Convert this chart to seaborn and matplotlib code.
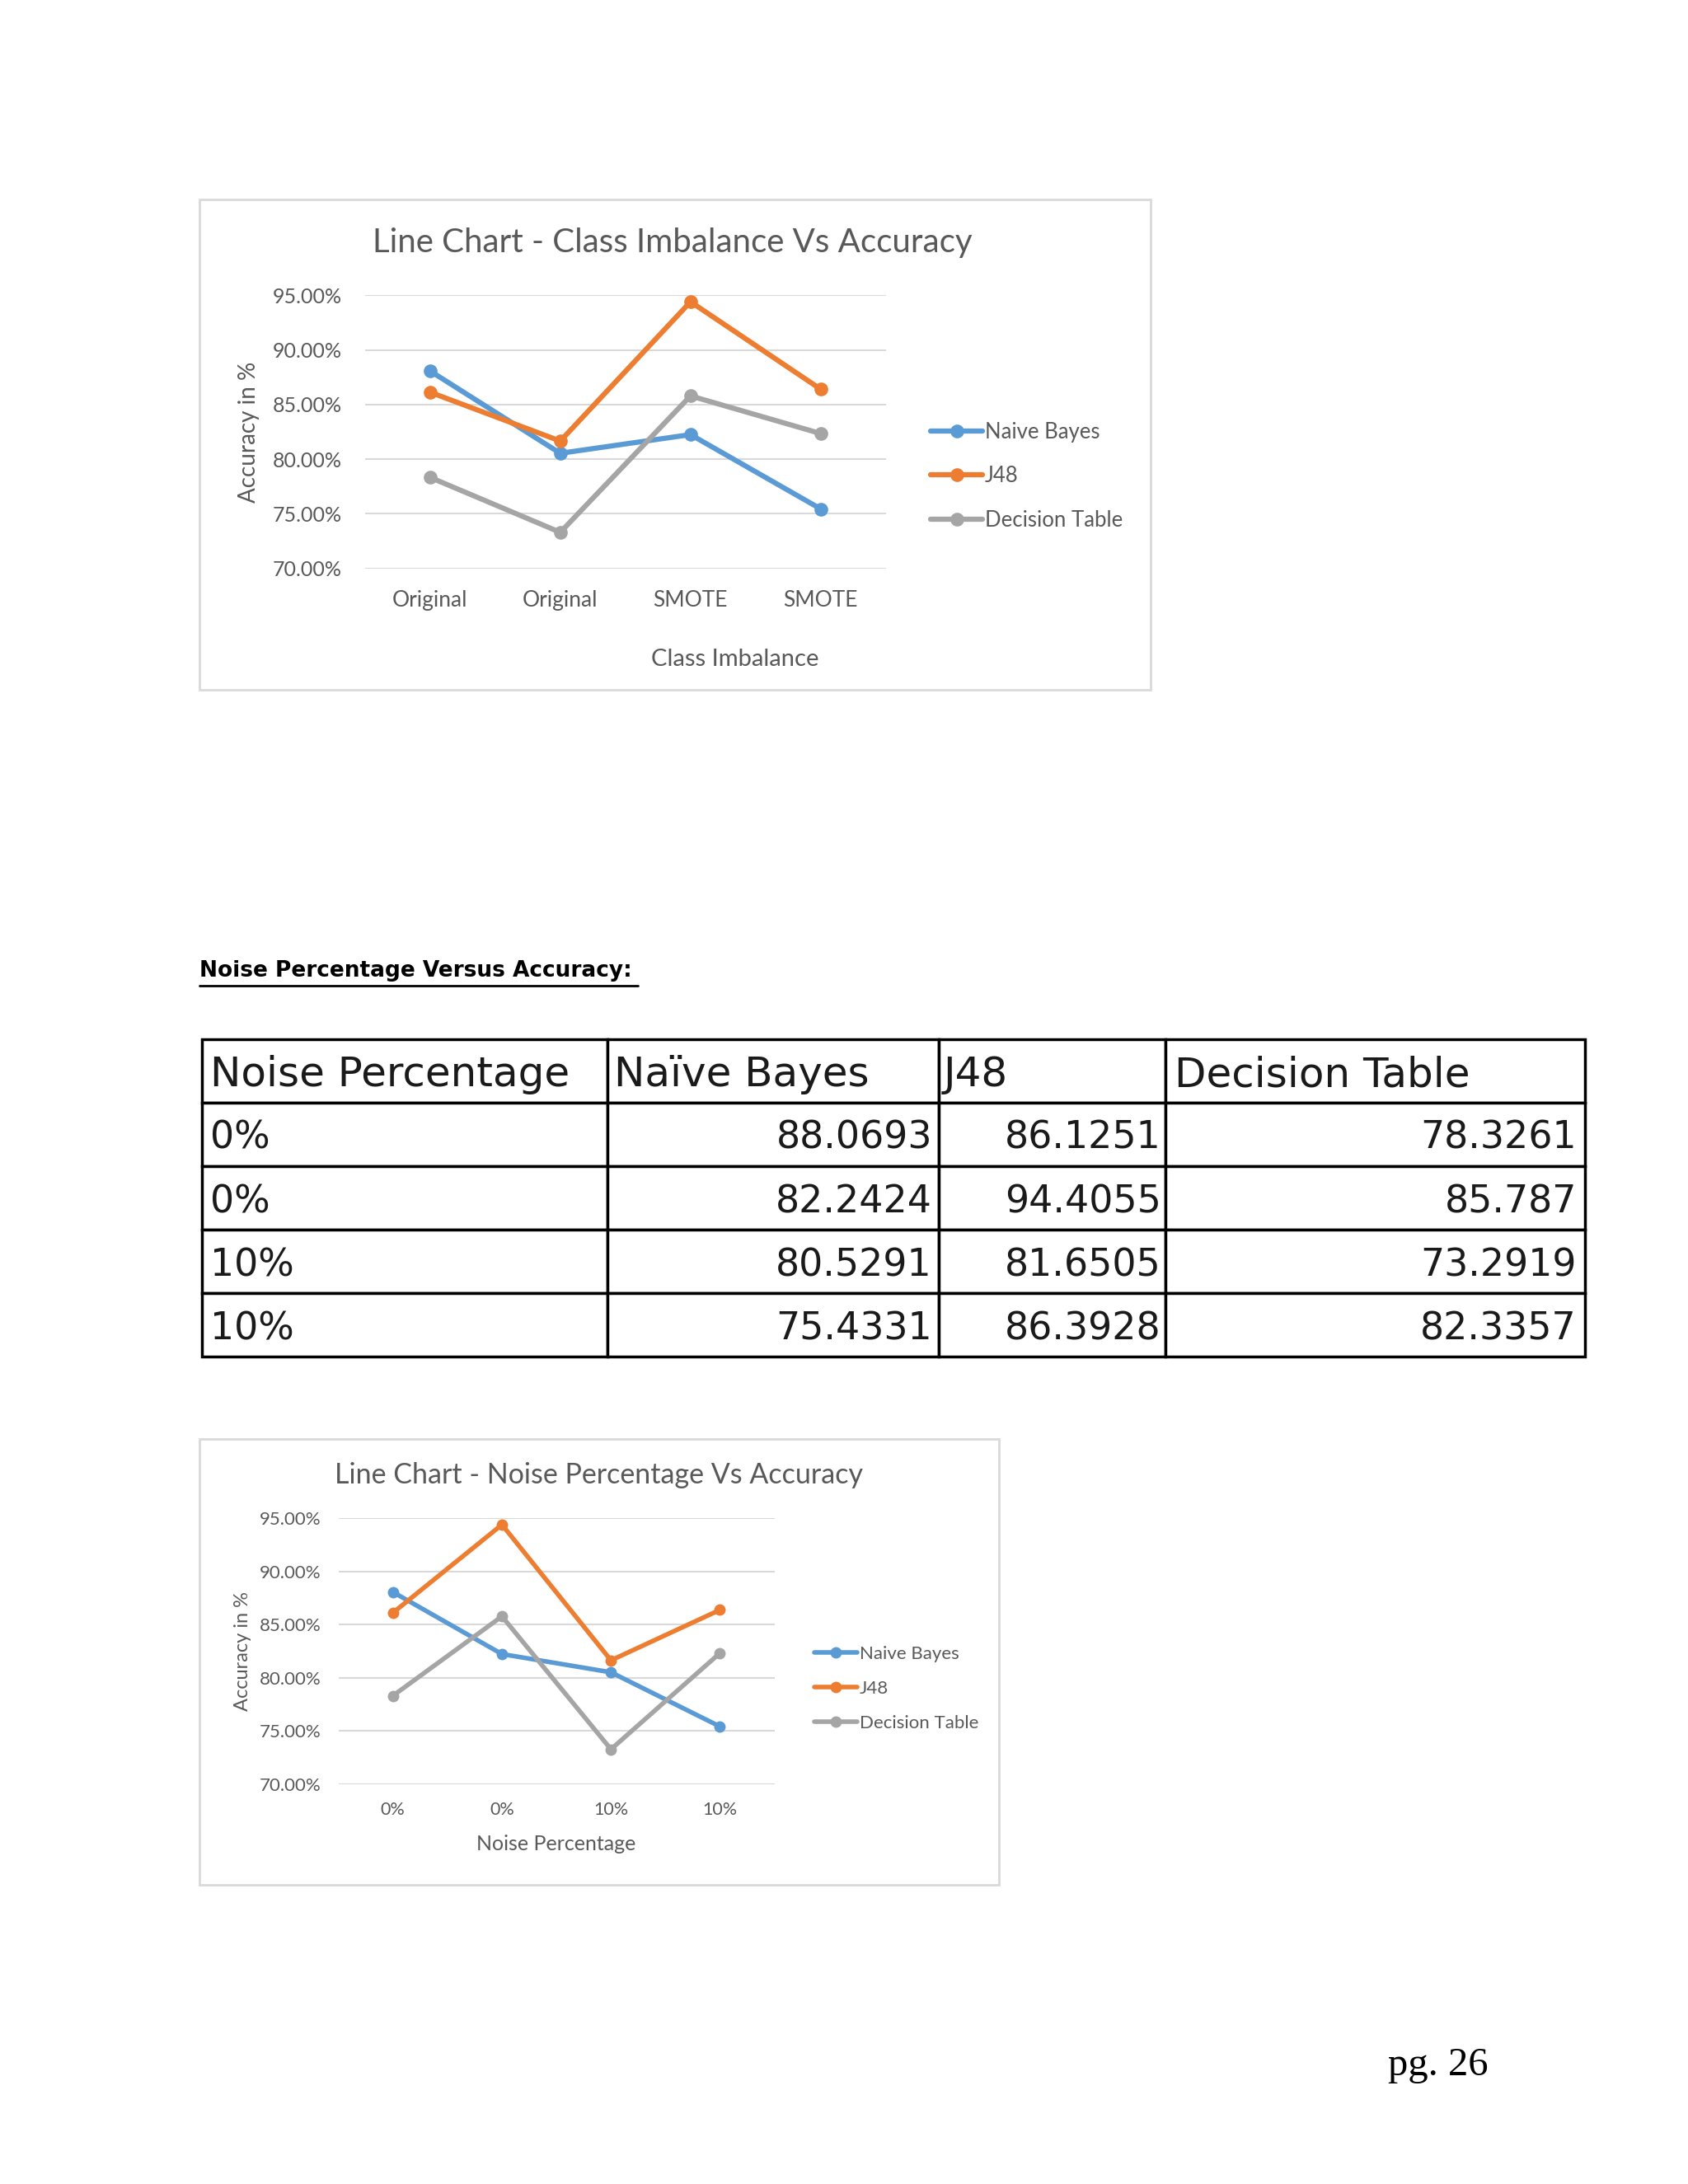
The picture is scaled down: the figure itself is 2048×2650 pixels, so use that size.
import matplotlib
matplotlib.use('Agg')
import numpy as np
import pandas as pd
import matplotlib.pyplot as plt
from matplotlib.patches import Rectangle
from matplotlib.lines import Line2D
from matplotlib.ticker import StrMethodFormatter
import seaborn as sns

# data read from the page
models = ['Naive Bayes', 'J48', 'Decision Table']
colors = ['#5B9BD5', '#ED7D31', '#A5A5A5']

imb_labels = ['Original', 'Original', 'SMOTE', 'SMOTE']
imb_nb = [88.0693, 80.5291, 82.2424, 75.4331]
imb_j48 = [86.1251, 81.6505, 94.4055, 86.3928]
imb_dt = [78.3261, 73.2919, 85.787, 82.3357]

noise_labels = ['0%', '0%', '10%', '10%']
noise_nb = [88.0693, 82.2424, 80.5291, 75.4331]
noise_j48 = [86.1251, 94.4055, 81.6505, 86.3928]
noise_dt = [78.3261, 85.787, 73.2919, 82.3357]

table_header = ['Noise Percentage', 'Naïve Bayes', 'J48', 'Decision Table']
table_noise = ['0%', '0%', '10%', '10%']
table_nb = ['88.0693', '82.2424', '80.5291', '75.4331']
table_j48 = ['86.1251', '94.4055', '81.6505', '86.3928']
table_dt = ['78.3261', '85.787', '73.2919', '82.3357']

sns.set_theme(style='white')
plt.rcParams['font.family'] = ['Lato', 'DejaVu Sans']

fig = plt.figure(figsize=(20.48, 26.5), dpi=100)
fig.patch.set_facecolor('white')

grey_txt = '#595959'


def long_df(labels, nb, j48, dt):
    n = len(labels)
    return pd.DataFrame({'pos': np.tile(np.arange(n), 3),
                         'acc': nb + j48 + dt,
                         'model': np.repeat(models, n)})


def line_chart(rect, box, df, labels, title, title_xy, xlabel, xlab_xy, ylab_x, sizes,
               lw, ms, tpad_x, tpad_y, leg_anchor, leg_space, hlen):
    fs_title, fs_yt, fs_xt, fs_leg, fs_ylab, fs_xlab = sizes
    fig.add_artist(Rectangle((box[0], box[1]), box[2], box[3], transform=fig.transFigure,
                             fill=False, ec='#D9D9D9', lw=2))
    ax = fig.add_axes(rect)
    sns.lineplot(data=df, x='pos', y='acc', hue='model', hue_order=models, palette=colors,
                 marker='o', markersize=ms, markeredgewidth=0, linewidth=lw,
                 sort=False, errorbar=None, legend=False, ax=ax)
    ax.set_xlim(-0.5, len(labels) - 0.5)
    ax.set_ylim(70, 95)
    ax.set_yticks(np.arange(70, 96, 5))
    ax.yaxis.set_major_formatter(StrMethodFormatter('{x:.2f}%'))
    ax.set_xticks(np.arange(len(labels)))
    ax.set_xticklabels(labels)
    ax.tick_params(axis='x', length=0, pad=tpad_x, labelsize=fs_xt, labelcolor=grey_txt)
    ax.tick_params(axis='y', length=0, pad=tpad_y, labelsize=fs_yt, labelcolor=grey_txt)
    ax.yaxis.grid(True, color='#D9D9D9', lw=1.5)
    ax.set_axisbelow(True)
    for s in ax.spines.values():
        s.set_visible(False)
    ax.set_xlabel(xlabel, fontsize=fs_xlab, color=grey_txt)
    ax.xaxis.set_label_coords(*xlab_xy)
    ax.set_ylabel('Accuracy in %', fontsize=fs_ylab, color=grey_txt)
    ax.yaxis.set_label_coords(ylab_x, 0.5)
    fig.text(title_xy[0], title_xy[1], title, ha='center', va='center',
             fontsize=fs_title, color=grey_txt)
    handles = ax.get_lines()[:3]
    ax.legend(handles, models, loc='center left', bbox_to_anchor=leg_anchor, frameon=False,
              fontsize=fs_leg, labelcolor=grey_txt, handlelength=hlen, handletextpad=0.1,
              labelspacing=leg_space, borderaxespad=0)
    return ax


# chart 1
line_chart([0.2162, 0.7398, 0.3086, 0.125], [0.118, 0.6843, 0.5635, 0.2245],
           long_df(imb_labels, imb_nb, imb_j48, imb_dt), imb_labels,
           'Line Chart - Class Imbalance Vs Accuracy', (0.3985, 0.889),
           'Class Imbalance', (0.71, -0.295), -0.202,
           sizes=(29, 18, 19, 18.5, 20, 21), lw=4.5, ms=12, tpad_x=19, tpad_y=20,
           leg_anchor=(1.07, 0.337), leg_space=1.1, hlen=2.45)

# chart 2
line_chart([0.2005, 0.1830, 0.2583, 0.1218], [0.118, 0.1371, 0.4736, 0.2041],
           long_df(noise_labels, noise_nb, noise_j48, noise_dt), noise_labels,
           'Line Chart - Noise Percentage Vs Accuracy', (0.3548, 0.3246),
           'Noise Percentage', (0.50, -0.19), -0.20,
           sizes=(24.5, 16, 15.5, 16, 17, 18), lw=4, ms=10, tpad_x=15, tpad_y=15,
           leg_anchor=(1.075, 0.36), leg_space=1.0, hlen=2.35)

# section heading
fig.text(0.118, 0.5555, 'Noise Percentage Versus Accuracy:', ha='left', va='center',
         fontsize=19, fontweight='bold', color='black', family=['Liberation Sans Narrow', 'DejaVu Sans'])
fig.add_artist(Line2D([0.118, 0.378], [0.5487, 0.5487], transform=fig.transFigure, color='black', lw=2))

# table
axt = fig.add_axes([0.1196, 0.3788, 0.8194, 0.1454])
axt.axis('off')
rows = [list(r) for r in zip(table_noise, table_nb, table_j48, table_dt)]
widths = [291, 238, 163, 301]
tbl = axt.table(cellText=rows, colLabels=table_header, colWidths=[w / sum(widths) for w in widths],
                cellLoc='right', colLoc='left', bbox=[0, 0, 1, 1])
tbl.auto_set_font_size(False)
tbl.set_fontsize(33)
for (r, c), cell in tbl.get_celld().items():
    cell.set_linewidth(2.5)
    cell.set_edgecolor('black')
    cell.PAD = 0.02
    txt = cell.get_text()
    txt.set_fontfamily('DejaVu Sans')
    txt.set_color('#1a1a1a')
    txt.set_verticalalignment('center_baseline')
    if r == 0:
        txt.set_fontsize(36)
    if r == 0 or c == 0:
        txt.set_horizontalalignment('left')

# page number
fig.text(0.852, 0.0542, 'pg. 26', ha='center', va='center', fontsize=35,
         family=['Liberation Serif', 'DejaVu Serif'], color='black')

fig.savefig('out.png', dpi=100, facecolor='white')
